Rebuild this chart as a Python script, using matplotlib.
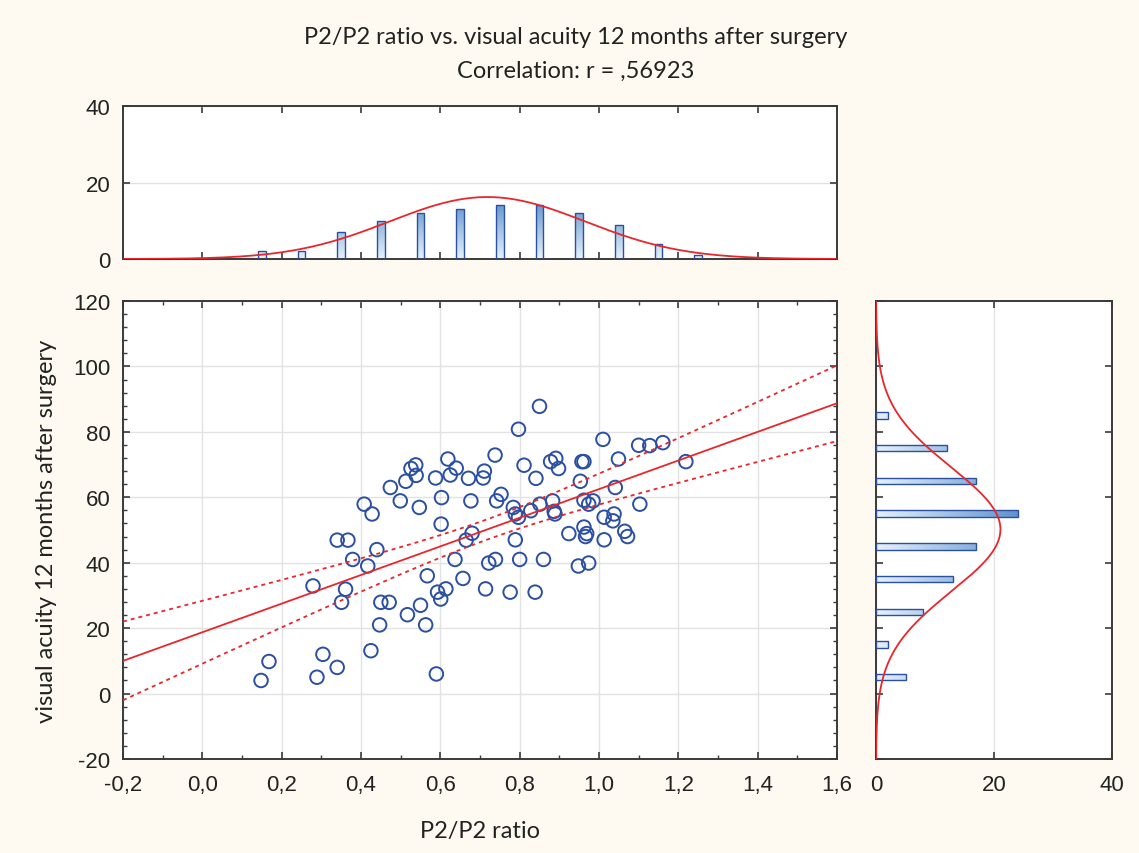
import numpy as np
import matplotlib
matplotlib.use('Agg')
import matplotlib.pyplot as plt
from matplotlib.ticker import MultipleLocator, FuncFormatter
from matplotlib.colors import LinearSegmentedColormap

# ---------------- data ----------------
ratio = [0.148, 0.168, 0.289, 0.279, 0.304, 0.340, 0.340, 0.367, 0.351, 0.361,
         0.379, 0.408, 0.417, 0.428, 0.425, 0.440, 0.447, 0.450, 0.471, 0.474,
         0.499, 0.513, 0.517, 0.526, 0.538, 0.539, 0.547, 0.550, 0.563, 0.567,
         0.588, 0.590, 0.593, 0.601, 0.602, 0.603, 0.614, 0.619, 0.625, 0.637,
         0.640, 0.657, 0.665, 0.671, 0.677, 0.680, 0.708, 0.711, 0.714, 0.722,
         0.739, 0.738, 0.742, 0.753, 0.776, 0.784, 0.789, 0.797, 0.789, 0.797,
         0.800, 0.811, 0.828, 0.839, 0.841, 0.850, 0.851, 0.860, 0.878, 0.891,
         0.898, 0.883, 0.887, 0.889, 0.924, 0.953, 0.957, 0.962, 0.962, 0.974,
         0.985, 0.962, 0.969, 0.966, 0.948, 0.974, 1.010, 1.013, 1.013, 1.100,
         1.128, 1.161, 1.049, 1.219, 1.041, 1.103, 1.038, 1.035, 1.065, 1.072]
acuity = [4.0, 9.8, 5.0, 32.9, 12.0, 8.0, 46.9, 46.9, 27.9, 31.9,
          41.0, 57.9, 39.0, 54.9, 13.1, 44.0, 21.0, 27.9, 27.9, 63.0,
          58.9, 64.9, 24.1, 68.8, 69.9, 66.7, 56.9, 27.0, 21.0, 36.0,
          65.9, 6.0, 31.0, 28.9, 51.8, 59.9, 32.0, 71.7, 66.8, 41.0,
          68.9, 35.2, 46.9, 65.8, 58.9, 49.0, 65.9, 68.0, 32.0, 39.9,
          41.0, 72.9, 58.9, 60.9, 31.0, 56.9, 54.9, 53.9, 47.0, 80.8,
          41.0, 69.8, 55.9, 31.0, 65.8, 87.8, 57.9, 41.0, 70.9, 71.9,
          68.8, 58.9, 55.7, 54.9, 48.9, 64.9, 70.9, 70.9, 59.1, 57.9,
          58.9, 50.9, 48.9, 48.0, 39.0, 39.9, 77.7, 53.9, 47.0, 75.9,
          75.8, 76.7, 71.7, 70.9, 63.0, 57.9, 54.9, 52.8, 49.6, 48.0]

ratio_bin_centers = [0.15, 0.25, 0.35, 0.45, 0.55, 0.65, 0.75, 0.85, 0.95, 1.05, 1.15, 1.25]
ratio_counts = [2, 2, 7, 10, 12, 13, 14, 14, 12, 9, 4, 1]
acuity_bin_centers = [5, 15, 25, 35, 45, 55, 65, 75, 85]
acuity_counts = [5, 2, 8, 13, 17, 24, 17, 12, 2]

title_line1 = "P2/P2 ratio vs. visual acuity 12 months after surgery"
title_line2 = "Correlation: r = ,56923"
xlabel = "P2/P2 ratio"
ylabel = "visual acuity 12 months after surgery"

# ---------------- styling ----------------
W, H = 1139, 854
BG = '#fffaf1'
RED = '#e8262b'
BLUE = '#2b4fa3'
EDGE = '#2c4f9f'
GRID = '#e2e2e2'
SPINE = '#3a3a3a'
TICKFONT = 'Liberation Sans'
LABFONT = 'Lato'
TICKCOL = '#222222'

cmap = LinearSegmentedColormap.from_list('g', ['#e6f1fb', '#4f88c9'])

fig = plt.figure(figsize=(W / 100, H / 100), dpi=100, facecolor=BG)
ax = fig.add_axes([123 / W, 1 - 760 / H, 714 / W, 458 / H])
axt = fig.add_axes([123 / W, 1 - 260 / H, 714 / W, 153 / H])
axr = fig.add_axes([876 / W, 1 - 760 / H, 236 / W, 458 / H])

comma = FuncFormatter(lambda v, p: ('%.1f' % v).replace('.', ','))
intfmt = FuncFormatter(lambda v, p: '%d' % round(v))


def style(a):
    a.set_facecolor('white')
    for s in a.spines.values():
        s.set_color(SPINE)
        s.set_linewidth(1.4)
    a.tick_params(which='both', direction='in', color=SPINE, labelcolor=TICKCOL,
                  top=True, right=True, labelsize=16)
    a.tick_params(axis='y', pad=9)
    a.tick_params(axis='x', pad=11)
    a.tick_params(which='major', length=5, width=1.2)
    a.tick_params(which='minor', length=3, width=1.0)
    for lab in a.get_xticklabels() + a.get_yticklabels():
        lab.set_fontfamily(TICKFONT)
    a.set_axisbelow(True)


# ---------------- main scatter ----------------
x = np.array(ratio)
y = np.array(acuity)
n = len(x)
slope, intercept = np.polyfit(x, y, 1)
xm = x.mean()
resid = y - (intercept + slope * x)
s = np.sqrt(np.sum(resid ** 2) / (n - 2))
sxx = np.sum((x - xm) ** 2)
tval = 1.9845
xx = np.linspace(-0.2, 1.6, 200)
yy = intercept + slope * xx
se = s * np.sqrt(1.0 / n + (xx - xm) ** 2 / sxx)

ax.grid(True, which='major', color=GRID, linewidth=1.0)
ax.scatter(x, y, s=95, facecolors='none', edgecolors=BLUE, linewidths=1.4, zorder=3)
ax.plot(xx, yy, color=RED, lw=1.3, zorder=4)
ax.plot(xx, yy + tval * se, color=RED, lw=1.3, ls=(0, (2.2, 2.2)), zorder=4)
ax.plot(xx, yy - tval * se, color=RED, lw=1.3, ls=(0, (2.2, 2.2)), zorder=4)
ax.set_xlim(-0.2, 1.6)
ax.set_ylim(-20, 120)
ax.xaxis.set_major_locator(MultipleLocator(0.2))
ax.xaxis.set_minor_locator(MultipleLocator(0.1))
ax.yaxis.set_major_locator(MultipleLocator(20))
ax.yaxis.set_minor_locator(MultipleLocator(4))
ax.xaxis.set_major_formatter(comma)
ax.yaxis.set_major_formatter(intfmt)
style(ax)
ax.set_xlabel(xlabel, fontsize=17, fontfamily=LABFONT, labelpad=18, color=TICKCOL)
ax.set_ylabel(ylabel, fontsize=17, fontfamily=LABFONT, labelpad=12, color=TICKCOL)


def grad_fill(a, bars, ref, vertical):
    for b in bars:
        x0, y0 = b.get_x(), b.get_y()
        w, h = b.get_width(), b.get_height()
        if vertical:
            g = np.linspace(0, h / ref, 64).reshape(-1, 1)
        else:
            g = np.linspace(0, w / ref, 64).reshape(1, -1)
        im = a.imshow(g, extent=[x0, x0 + w, y0, y0 + h], origin='lower',
                      aspect='auto', cmap=cmap, vmin=0, vmax=1, zorder=2,
                      interpolation='bilinear')
        im.set_clip_path(b)


# ---------------- top histogram ----------------
axt.grid(True, which='major', axis='y', color=GRID, linewidth=1.0)
bars = axt.bar(ratio_bin_centers, ratio_counts, width=0.02, facecolor='none',
               edgecolor=EDGE, linewidth=1.0, zorder=3)
grad_fill(axt, bars, 17.0, True)
mx, sx = x.mean(), x.std(ddof=1)
xt = np.linspace(-0.2, 1.6, 300)
axt.plot(xt, n * 0.1 * np.exp(-0.5 * ((xt - mx) / sx) ** 2) / (sx * np.sqrt(2 * np.pi)),
         color=RED, lw=1.3, zorder=4)
axt.set_xlim(-0.2, 1.6)
axt.set_ylim(0, 40)
axt.xaxis.set_major_locator(MultipleLocator(0.2))
axt.yaxis.set_major_locator(MultipleLocator(20))
axt.yaxis.set_major_formatter(intfmt)
style(axt)
axt.tick_params(labelbottom=False)

# ---------------- right histogram ----------------
axr.grid(True, which='major', axis='x', color=GRID, linewidth=1.0)
bars = axr.barh(acuity_bin_centers, acuity_counts, height=2.0, facecolor='none',
                edgecolor=EDGE, linewidth=1.0, zorder=3)
grad_fill(axr, bars, 27.0, False)
my, sy = y.mean(), y.std(ddof=1)
yr = np.linspace(-20, 120, 400)
axr.plot(n * 10 * np.exp(-0.5 * ((yr - my) / sy) ** 2) / (sy * np.sqrt(2 * np.pi)), yr,
         color=RED, lw=1.3, zorder=4)
axr.set_xlim(0, 40)
axr.set_ylim(-20, 120)
axr.xaxis.set_major_locator(MultipleLocator(20))
axr.yaxis.set_major_locator(MultipleLocator(20))
axr.xaxis.set_major_formatter(intfmt)
style(axr)
axr.tick_params(labelleft=False)

# ---------------- titles ----------------
fig.text(576 / W, 1 - 38 / H, title_line1, ha='center', va='center',
         fontsize=17, fontfamily=LABFONT, color=TICKCOL)
fig.text(576 / W, 1 - 71 / H, title_line2, ha='center', va='center',
         fontsize=17, fontfamily=LABFONT, color=TICKCOL)

fig.savefig('out.png', dpi=100, facecolor=BG)
